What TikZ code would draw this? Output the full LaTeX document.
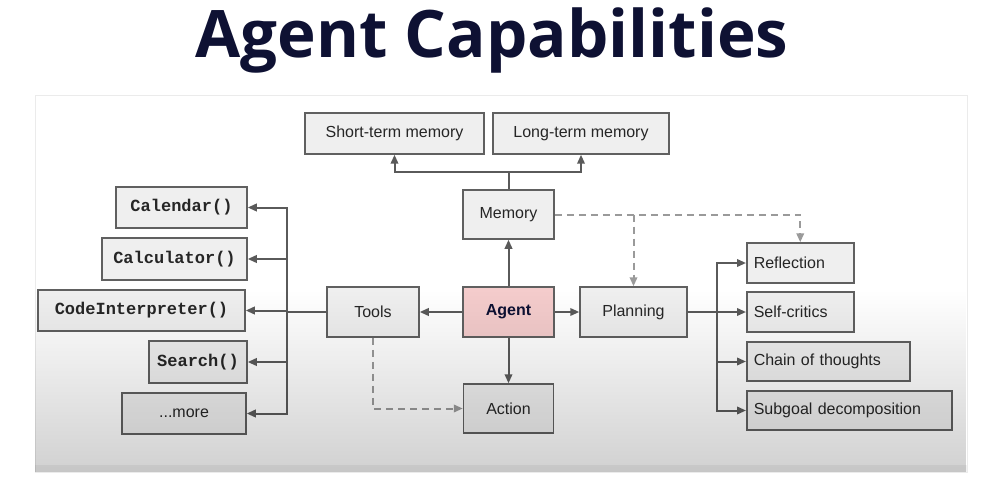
\documentclass[tikz,border=0pt]{standalone}
\usepackage{fontspec}
\setmainfont{Liberation Sans}
\newfontfamily\codefont{Liberation Mono}
\newfontfamily\titlefont{Open Sans}
\usetikzlibrary{arrows.meta, fadings}
\definecolor{titleblue}{HTML}{0E1133}
\definecolor{boxfill}{HTML}{EFEFEF}
\definecolor{boxline}{HTML}{606060}
\definecolor{agentpink}{HTML}{F4CCCC}
\definecolor{linkgray}{HTML}{5A5A5A}
\definecolor{dashgray}{HTML}{9A9A9A}
\tikzfading[name=fadedown, top color=transparent!100, bottom color=transparent!0]

\tikzset{
  box/.style={draw=boxline, line width=1.5pt, fill=boxfill, inner sep=0pt,
    text=black!85, font=\fontsize{16}{19}\selectfont},
  codebox/.style={box, font=\codefont\bfseries\fontsize{17}{20}\selectfont},
  leftbox/.style={box, anchor=west, align=left, inner xsep=7pt},
  link/.style={draw=linkgray, line width=2pt, -{Triangle[length=9pt,width=7.5pt]}},
  dlink/.style={draw=dashgray, line width=2pt, dash pattern=on 7pt off 5pt,
    -{Triangle[length=9pt,width=7.5pt]}},
}

\begin{document}
\begin{tikzpicture}[x=1pt, y=-1pt]
  \useasboundingbox (0,0) rectangle (987,481);
  \fill[white] (0,0) rectangle (987,481);
  \node[anchor=base, text=titleblue, font=\titlefont\bfseries\fontsize{65.5}{72}\selectfont]
    (title) at (492,58) {Agent Capabilities};
  \draw[black!8, fill=white] (35,95) rectangle (967,472);

  % core
  \node[box, fill=agentpink, minimum width=91pt, minimum height=50pt,
    font=\bfseries\fontsize{16}{19}\selectfont, text=titleblue] (agent) at (508.5,312) {Agent};
  \node[box, minimum width=91pt, minimum height=49pt] (memory) at (508.5,214.5) {Memory};
  \node[box, minimum width=90pt, minimum height=49pt] (action) at (508.5,408.5) {Action};
  \node[box, minimum width=107pt, minimum height=50pt] (planning) at (633.5,312) {Planning};
  \node[box, minimum width=92pt, minimum height=50pt] (tools) at (373,312) {Tools};

  % memory kinds
  \node[box, minimum width=179pt, minimum height=41pt] (shortterm) at (394.5,133.5) {Short-term memory};
  \node[box, minimum width=176pt, minimum height=41pt] (longterm) at (581,133.5) {Long-term memory};

  % planning
  \node[leftbox, text width=93pt, minimum height=40pt] (reflection) at (746,263) {Reflection};
  \node[leftbox, text width=93pt, minimum height=40pt] (selfcritics) at (746,312) {Self-critics};
  \node[leftbox, text width=149pt, minimum height=39pt] (chain) at (746,361.5) {Chain of thoughts};
  \node[leftbox, text width=191pt, minimum height=39pt] (subgoal) at (746,410.5) {Subgoal decomposition};

  % tools
  \node[codebox, minimum width=131pt, minimum height=41pt] (calendar) at (181.5,207.5) {Calendar()};
  \node[codebox, minimum width=145pt, minimum height=42pt] (calculator) at (174.5,259) {Calculator()};
  \node[codebox, minimum width=207pt, minimum height=41pt] (codeint) at (141.5,310.5) {CodeInterpreter()};
  \node[codebox, minimum width=98pt, minimum height=42pt] (search) at (198,362) {Search()};
  \node[box, minimum width=124pt, minimum height=41pt] (more) at (184,413.5) {...more};

  \coordinate (memsplit) at (508.5,172);
  \coordinate (toolbus) at (287,312);
  \coordinate (planbus) at (717,312);

  \draw[link] (agent) -- (memory);
  \draw[link] (agent) -- (action);
  \draw[link] (agent) -- (planning);
  \draw[link] (agent) -- (tools);

  \draw[link] (memory.north) -- (memsplit) -| (shortterm.south);
  \draw[link] (memsplit) -| (longterm.south);

  \draw[dlink] (memory.east) -| (reflection.north);
  \draw[dlink] (memory.east -| planning.north) -- (planning.north);
  \draw[dlink] (tools.south) |- (action.west);

  \foreach \t in {calendar, calculator, codeint, search, more}
    \draw[link] (tools.west) -- (toolbus) |- (\t.east);
  \foreach \p in {reflection, selfcritics, chain, subgoal}
    \draw[link] (planning.east) -- (planbus) |- (\p.west);

  % screenshot shading
  \fill[black, fill opacity=0.18, path fading=fadedown] (35,290) rectangle (967,472);
  \fill[black, fill opacity=0.05] (35,465) rectangle (967,472);
\end{tikzpicture}
\end{document}
